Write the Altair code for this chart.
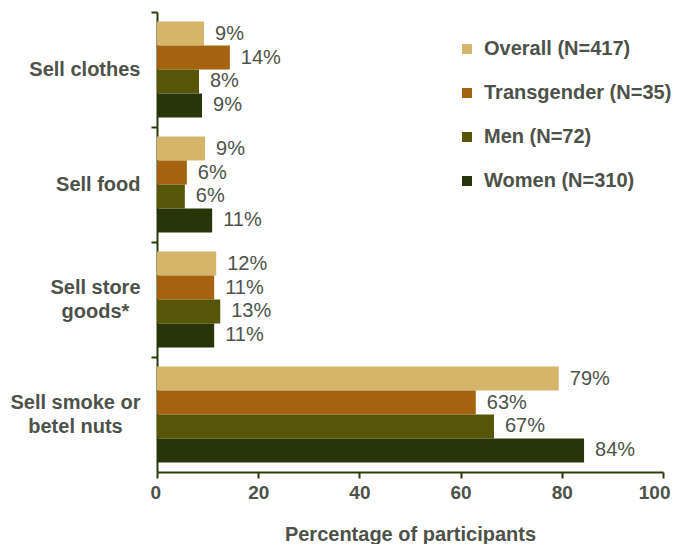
import altair as alt
import pandas as pd

categories = ["Sell clothes", "Sell food", "Sell store|goods*", "Sell smoke or|betel nuts"]
series = ["Overall (N=417)", "Transgender (N=35)", "Men (N=72)", "Women (N=310)"]
colors = ["#D4B56A", "#A5620F", "#575508", "#283508"]

overall = [9.3, 9.5, 11.7, 79.4]
transgender = [14.4, 5.9, 11.3, 63.0]
men = [8.3, 5.5, 12.5, 66.6]
women = [8.9, 10.9, 11.3, 84.4]

overall_labels = ["9%", "9%", "12%", "79%"]
transgender_labels = ["14%", "6%", "11%", "63%"]
men_labels = ["8%", "6%", "13%", "67%"]
women_labels = ["9%", "11%", "11%", "84%"]

rows = []
for s, vals, labs in zip(series,
                         [overall, transgender, men, women],
                         [overall_labels, transgender_labels, men_labels, women_labels]):
    for c, v, l in zip(categories, vals, labs):
        rows.append({"category": c, "series": s, "value": v, "label": l})
df = pd.DataFrame(rows)

TEXT = "#4D5249"
AXIS = "#2B3A0B"
FONT = "Liberation Sans"
MULTI = "indexof(datum.value, '|') >= 0"
SMOKE = "indexof(datum.value, 'smoke') >= 0"

base = alt.Chart(df).encode(
    y=alt.Y(
        "category:N",
        sort=categories,
        scale=alt.Scale(paddingInner=0, paddingOuter=0),
        axis=alt.Axis(
            title=None,
            bandPosition=0,
            labelExpr="split(datum.label, '|')",
            labelAlign={"condition": {"test": MULTI, "value": "center"}, "value": "right"},
            labelOffset={"condition": {"test": MULTI, "value": -12}, "value": 0},
            labelPadding={"condition": [{"test": SMOKE, "value": 76},
                                        {"test": MULTI, "value": 56}],
                          "value": 11},
            labelBaseline="middle",
            labelFont=FONT,
            labelFontSize=20,
            labelFontWeight="bold",
            labelColor=TEXT,
            labelLineHeight=24,
            labelLimit=300,
            tickSize=6,
            tickWidth=2,
            tickColor=AXIS,
            domainColor=AXIS,
            domainWidth=2,
        ),
    ),
    yOffset=alt.YOffset("series:N", sort=series, scale=alt.Scale(paddingInner=0, paddingOuter=0.4)),
    x=alt.X(
        "value:Q",
        scale=alt.Scale(domain=[0, 100], nice=False),
        axis=alt.Axis(
            values=[0, 20, 40, 60, 80, 100],
            grid=False,
            title="Percentage of participants",
            titleFont=FONT,
            titleFontSize=20,
            titleFontWeight="bold",
            titleColor=TEXT,
            titlePadding=22,
            labelFont=FONT,
            labelFontSize=19,
            labelFontWeight="bold",
            labelColor=TEXT,
            labelPadding=5,
            labelFlush=True,
            labelFlushOffset=7,
            tickSize=6,
            tickWidth=2,
            tickColor=AXIS,
            domainColor=AXIS,
            domainWidth=2,
        ),
    ),
)

bars = base.mark_bar().encode(
    color=alt.Color(
        "series:N",
        sort=series,
        scale=alt.Scale(domain=series, range=colors),
        legend=alt.Legend(
            title=None,
            orient="none",
            legendX=300,
            legendY=27,
            symbolType="square",
            symbolSize=100,
            symbolStrokeWidth=0,
            labelFont=FONT,
            labelFontSize=20,
            labelFontWeight="bold",
            labelColor=TEXT,
            labelOffset=7,
            labelLimit=300,
            rowPadding=24,
            padding=0,
        ),
    )
)

labels = base.mark_text(align="left", baseline="middle", dx=11, fontSize=20, font=FONT, color=TEXT).encode(
    text="label:N"
)

chart = (
    alt.layer(bars, labels)
    .properties(
        width=506,
        height=460,
        autosize=alt.AutoSizeParams(type="none"),
        padding={"left": 149, "top": 4, "right": 9, "bottom": 72},
    )
    .configure_view(stroke=None)
)

chart.save("out.html", embed_options={"renderer": "svg", "actions": False})
